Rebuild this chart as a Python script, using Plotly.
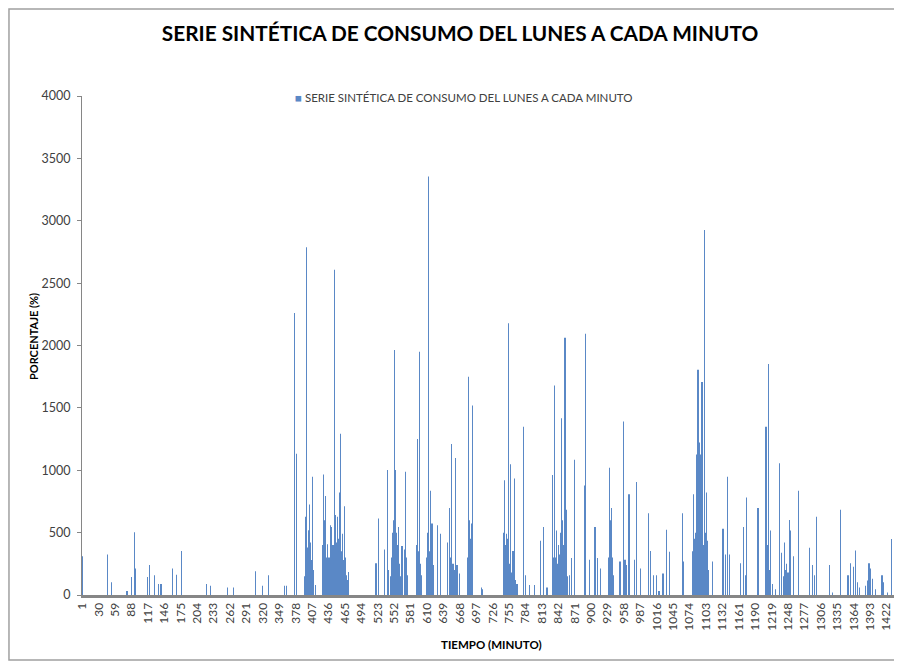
import plotly.graph_objects as go

# minutos 1..1440 ; casi todos ~0, solo se guardan los picos
n_minutes = 1440
peak_minutes = [
    1, 45, 53, 80, 88, 93, 95, 116, 119, 128, 135, 140, 160, 168, 176, 221, 228, 258, 268, 307, 319, 330, 358, 362,
    376, 379, 394, 395, 396, 397, 398, 399, 400, 401, 402, 403, 404, 405, 406, 407, 408, 409, 410, 413,
    425, 426, 427, 428, 429, 430, 431, 432, 433, 434, 435, 436, 437, 438, 439, 440, 441, 442, 443, 444, 445, 446,
    447, 448, 449, 450, 451, 452, 453, 454, 455, 456, 457, 458, 459, 460, 461, 462, 463, 464, 465, 466, 467, 468,
    469, 470, 471,
    520, 525, 535, 541, 542, 545, 547, 548, 549, 550, 551, 552, 553, 554, 555, 556, 557, 558, 559, 560, 561, 562,
    563, 566, 567, 570, 571, 572, 573, 574, 576,
    591, 592, 593, 594, 595, 596, 597, 598, 599, 600, 610, 611, 612, 613, 614, 615, 616, 617, 618, 619, 620, 622,
    629, 634, 646, 650, 651, 652, 653, 654, 655, 656, 657, 658, 659, 660, 661, 662, 663, 668,
    682, 683, 684, 685, 686, 687, 688, 689, 690, 691, 706, 708,
    745, 746, 747, 748, 749, 750, 751, 752, 753, 754, 755, 756, 757, 758, 759, 760, 761, 762, 763, 764, 765, 766,
    769, 781, 784, 791, 800, 810, 816, 822,
    832, 833, 834, 835, 836, 837, 838, 839, 840, 841, 842, 843, 844, 845, 846, 847, 848, 849, 850, 851, 852, 853,
    854, 855, 856, 857, 858, 862, 866, 871, 888, 890, 897, 907, 912, 917,
    930, 931, 932, 933, 934, 935, 936, 937, 938, 940, 951, 957, 960, 963, 967, 977, 980, 988,
    1002, 1005, 1010, 1015, 1020, 1027, 1033, 1039, 1061, 1063,
    1079, 1080, 1081, 1082, 1083, 1084, 1085, 1086, 1087, 1088, 1089, 1090, 1091, 1092, 1093, 1094, 1095, 1096,
    1097, 1098, 1099, 1100, 1101, 1102, 1103, 1104, 1105, 1106, 1107, 1115,
    1133, 1137, 1141, 1144, 1164, 1169, 1173, 1175, 1195,
    1209, 1210, 1211, 1212, 1213, 1214, 1215, 1217, 1221, 1226, 1233, 1236,
    1240, 1242, 1243, 1245, 1246, 1248, 1250, 1251, 1252, 1253, 1257, 1267,
    1286, 1291, 1294, 1299, 1321, 1326, 1340, 1354, 1359, 1363, 1367, 1371, 1375,
    1385, 1388, 1391, 1394, 1397, 1402, 1414, 1417, 1424, 1431,
]
peak_values = [
    310, 324, 102, 33, 144, 504, 213, 144, 240, 158, 89, 89, 213, 163, 352, 89, 75, 61, 61, 191, 75, 158, 75, 75,
    2261, 1132, 150, 300, 628, 2787, 380, 260, 435, 520, 310, 725, 420, 280, 180, 947, 300, 200, 120, 80,
    200, 400, 966, 600, 350, 794, 450, 300, 250, 407, 200, 150, 300, 250, 559, 350, 200, 545, 300, 400, 250, 500,
    2607, 380, 642, 420, 300, 628, 450, 350, 822, 600, 1293, 400, 300, 350, 490, 280, 200, 400, 711, 300, 150, 158,
    100, 120, 185,
    255, 614, 365, 1002, 200, 150, 300, 250, 435, 500, 600, 700, 1963, 1002, 650, 500, 400, 350, 545, 300, 200, 250,
    150, 393, 200, 365, 250, 988, 300, 200, 158,
    200, 400, 1251, 450, 300, 350, 1949, 250, 200, 158, 300, 500, 3355, 400, 350, 250, 836, 300, 200, 573, 150, 241,
    559, 490, 421, 698, 250, 300, 1210, 400, 200, 250, 150, 200, 180, 250, 1099, 150, 241, 172,
    300, 500, 1749, 600, 450, 350, 573, 400, 300, 1520, 61, 47,
    300, 500, 919, 400, 350, 490, 300, 450, 250, 2178, 200, 250, 300, 1049, 150, 180, 200, 352, 150, 200, 933, 120,
    89, 1348, 158, 80, 80, 435, 545, 61,
    961, 300, 250, 450, 1680, 300, 200, 518, 150, 250, 300, 400, 324, 250, 500, 1140, 1417, 600, 450, 350, 400, 300,
    2062, 250, 684, 200, 150, 158, 296, 1085, 877, 2095, 282, 545, 296, 213,
    150, 300, 500, 1021, 600, 450, 698, 300, 200, 158, 268, 1390, 282, 241, 808, 282, 905, 213,
    656, 352, 158, 158, 33, 172, 523, 346, 656, 268,
    200, 350, 808, 450, 300, 421, 500, 700, 1127, 600, 1805, 800, 1223, 500, 650, 1127, 700, 1708,
    500, 400, 324, 600, 2926, 500, 450, 822, 300, 435, 200, 268,
    531, 324, 947, 324, 255, 545, 158, 781, 698,
    1348, 300, 250, 400, 1852, 300, 200, 518, 89, 47, 1057, 338,
    150, 421, 200, 158, 250, 180, 601, 300, 200, 518, 310, 836,
    379, 241, 158, 628, 241, 20, 684, 158, 255, 227, 357, 102, 61,
    75, 116, 255, 213, 130, 47, 158, 102, 20, 448,
]
tick_minutes = list(range(1, n_minutes + 1, 29))

minutes = list(range(1, n_minutes + 1))
consumo = [0] * n_minutes
for m, v in zip(peak_minutes, peak_values):
    consumo[m - 1] = v

name = "SERIE SINTÉTICA DE CONSUMO DEL LUNES A CADA MINUTO"
font = "Lato, Open Sans, sans-serif"
blue = "#5A88C6"

# the page body has an 8px margin, so the figure is 8px smaller than the window
fig = go.Figure(go.Bar(x=minutes, y=consumo, name=name, width=0.25,
                       marker=dict(color=blue, line=dict(width=0)), showlegend=False))

fig.update_layout(
    width=894, height=654,
    margin=dict(l=74, r=5, t=88, b=67),
    paper_bgcolor="white", plot_bgcolor="white",
    font=dict(family=font, color="#404040", size=12),
    title=dict(text="<b>" + name + "</b>", x=0.5056, xanchor="center", y=0.960, yanchor="middle",
               font=dict(size=20.8, color="black", family=font)),
)
fig.update_xaxes(range=[0.5, n_minutes + 0.5], tickmode="array", tickvals=tick_minutes,
                 ticktext=[str(t) for t in tick_minutes], tickangle=-90, ticks="",
                 showline=True, linecolor="#868686", linewidth=3, showgrid=False, zeroline=False,
                 tickfont=dict(size=12, color="#404040"))
fig.update_yaxes(range=[0, 4000], tickvals=list(range(0, 4001, 500)), ticks="outside", ticklen=4,
                 tickcolor="#868686", showline=True, linecolor="#868686", linewidth=1,
                 ticklabelstandoff=4,
                 showgrid=False, zeroline=False, tickfont=dict(size=12.5, color="#404040"))

# legend drawn as text (small square + label) to match the excel look
fig.add_annotation(text="<span style='color:%s'>■</span> %s" % (blue, name), xref="paper", yref="paper",
                   x=(455.5 - 74) / 815, y=(587 - 89) / 499, xanchor="center", yanchor="middle",
                   showarrow=False, font=dict(size=11.5, color="#404040"))
fig.add_annotation(text="<b>PORCENTAJE (%)</b>", xref="paper", yref="paper", x=-0.0601, y=0.517,
                   xanchor="center", yanchor="middle",
                   textangle=-90, showarrow=False, font=dict(size=11, color="black"))
fig.add_annotation(text="<b>TIEMPO (MINUTO)</b>", xref="paper", yref="paper", x=0.502, y=-0.1002,
                   xanchor="center", yanchor="middle",
                   showarrow=False, font=dict(size=11.5, color="black"))
fig.add_shape(type="rect", xref="paper", yref="paper", x0=-0.0896, x1=1.0049, y0=-0.1303, y1=1.1743,
              line=dict(color="#A0A0A0", width=1.5), layer="below")

fig.write_html("out.html")
